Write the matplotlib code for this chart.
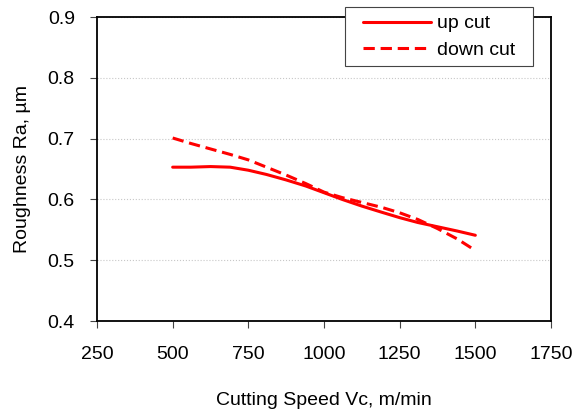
import matplotlib
matplotlib.use("Agg")
import matplotlib.pyplot as plt
from matplotlib.patches import Rectangle
from matplotlib.ticker import FormatStrFormatter

plt.rcParams['font.family'] = ['Liberation Sans', 'DejaVu Sans']

# cutting speed, m/min
speed = [500, 560, 625, 690, 750, 810, 875, 940, 1000, 1060, 1125, 1190, 1250, 1310, 1375, 1440, 1500]
# roughness Ra, um
up_cut = [0.653, 0.653, 0.654, 0.653, 0.648, 0.641, 0.632, 0.622, 0.611, 0.600, 0.589, 0.579, 0.570, 0.562, 0.555, 0.548, 0.541]
down_cut = [0.701, 0.692, 0.683, 0.674, 0.665, 0.653, 0.640, 0.626, 0.612, 0.603, 0.595, 0.587, 0.578, 0.567, 0.552, 0.535, 0.516]

xticks = [250, 500, 750, 1000, 1250, 1500, 1750]
yticks = [0.4, 0.5, 0.6, 0.7, 0.8, 0.9]

fig = plt.figure(figsize=(5.76, 4.12), dpi=100)
ax = fig.add_axes([97/576, 1 - 321/412, 454/576, 304/412])

ax.plot(speed, up_cut, color='red', lw=2.2, solid_capstyle='round', label='up cut')
ax.plot(speed, down_cut, color='red', lw=2.2, dashes=(3.7, 1.9), label='down cut')

ax.set_xlim(250, 1750)
ax.set_ylim(0.4, 0.9)
ax.set_xticks(xticks)
ax.set_yticks(yticks)
ax.yaxis.set_major_formatter(FormatStrFormatter('%.1f'))
ax.grid(axis='y', color='#c8c8c8', linestyle=':', linewidth=0.8)
ax.set_axisbelow(True)

for s in ax.spines.values():
    s.set_linewidth(1.3)
ax.tick_params(direction='out', length=5, width=0.8, color='#444444', labelsize=14)
ax.tick_params(axis='y', pad=11)
ax.tick_params(axis='x', pad=13)

ax.set_xlabel('Cutting Speed Vc, m/min', fontsize=14, labelpad=21)
ax.set_ylabel('Roughness Ra, µm', fontsize=14, labelpad=12)

# legend without its own frame; a wider box is drawn round it below
leg = ax.legend(loc='upper right', bbox_to_anchor=(0.938, 1.033), borderaxespad=0,
                fontsize=14, handlelength=3.5, handletextpad=0.3,
                frameon=False, borderpad=0.4, labelspacing=0.45)
leg.set_zorder(10)

fig.canvas.draw()
bb = leg.get_window_extent().transformed(fig.transFigure.inverted())
dx = 10 / 576
box = Rectangle((bb.x0 - dx, bb.y0), bb.width + 2 * dx, bb.height,
                transform=fig.transFigure, facecolor='white', edgecolor='#444444',
                linewidth=0.8, zorder=9, clip_on=False)
ax.add_patch(box)

fig.savefig('out.png', dpi=100)
